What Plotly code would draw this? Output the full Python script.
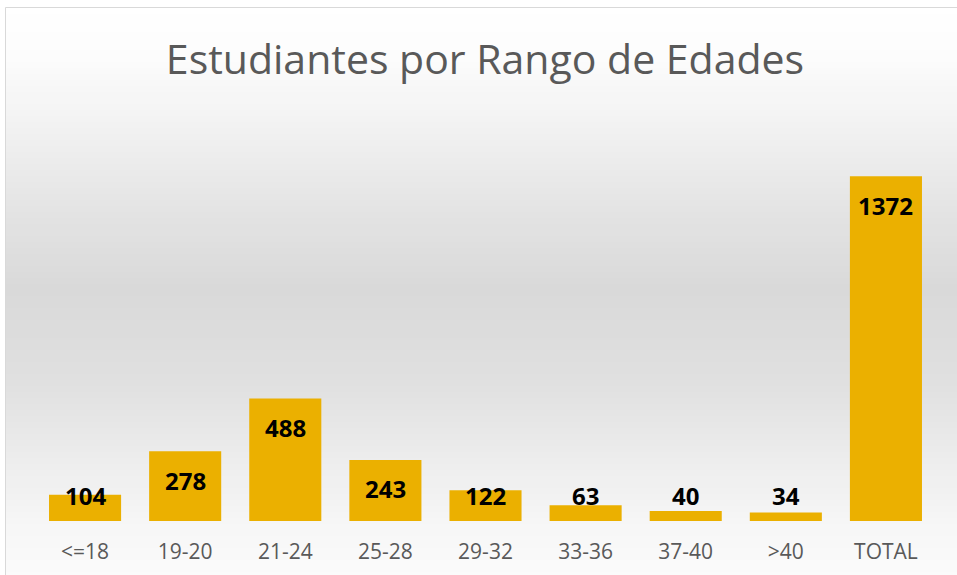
import plotly.graph_objects as go

categories = ["<=18", "19-20", "21-24", "25-28", "29-32", "33-36", "37-40", ">40", "TOTAL"]
students = [104, 278, 488, 243, 122, 63, 40, 34, 1372]
title_text = "Estudiantes por Rango de Edades"

W, H = 957, 575
plot_left, plot_right = 35, 936
plot_top, plot_bottom = 119, 521
y_max = 1600

fig = go.Figure()
fig.add_trace(go.Bar(
    x=categories, y=students,
    marker=dict(color="#EBB000", line=dict(width=0)),
    hoverinfo="x+y",
))

# background gradient bands (figure coordinates)
stops = [(8, 255), (60, 252), (130, 241), (200, 229), (290, 217), (380, 224), (450, 235), (520, 246), (575, 251)]
def gray_at(py):
    for (y0, g0), (y1, g1) in zip(stops[:-1], stops[1:]):
        if y0 <= py <= y1:
            return g0 + (g1 - g0) * (py - y0) / (y1 - y0)
    return 255
shapes = []
band = 6
py = 8
while py < H:
    g = int(round(gray_at(py + band / 2)))
    shapes.append(dict(type="rect", xref="paper", yref="paper",
                       x0=6 / W, x1=1.0, y0=1 - (py + band + 0.5) / H, y1=1 - py / H,
                       fillcolor=f"rgb({g},{g},{g})", line=dict(width=0), layer="below"))
    py += band
# chart border
shapes.append(dict(type="rect", xref="paper", yref="paper", x0=5.5 / W, x1=1.2, y0=-0.2, y1=1 - 7.5 / H,
                   line=dict(color="#D9D9D9", width=1), fillcolor="rgba(0,0,0,0)", layer="above"))

# data labels
scale = (plot_bottom - plot_top) / y_max
annotations = []
for c, v in zip(categories, students):
    if v * scale - 29 < 26:
        yy, sh = 0, 26
    else:
        yy, sh = v, -29
    annotations.append(dict(x=c, y=yy, yshift=sh, text=f"<b>{v}</b>", showarrow=False,
                            xref="x", yref="y", yanchor="middle",
                            font=dict(family="Open Sans", size=24, color="#000000")))

fig.update_layout(
    width=W, height=H,
    margin=dict(l=0, r=0, t=0, b=0),
    paper_bgcolor="white", plot_bgcolor="rgba(0,0,0,0)",
    title=dict(text=title_text, x=485 / W, xanchor="center", y=1 - 60 / H, yanchor="middle",
               font=dict(family="Open Sans", size=41, color="#595959")),
    xaxis=dict(domain=[plot_left / W, plot_right / W], showgrid=False, zeroline=False, showline=False,
               ticks="", tickfont=dict(family="Open Sans", size=21, color="#595959"), ticklabelstandoff=16),
    yaxis=dict(domain=[1 - plot_bottom / H, 1 - plot_top / H], range=[0, y_max], visible=False),
    bargap=0.28,
    shapes=shapes,
    annotations=annotations,
    showlegend=False,
)

fig.write_html("out.html", config={"displayModeBar": False},
               post_script="document.body.style.margin='0';document.body.style.overflow='hidden';")
